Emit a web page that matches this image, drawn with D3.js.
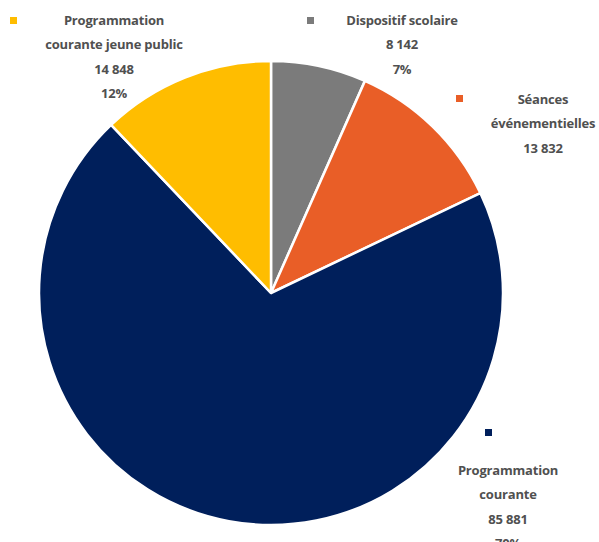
<!DOCTYPE html>
<html><head><meta charset="utf-8">
<script src="https://cdn.jsdelivr.net/npm/d3@7"></script>
<style>body{margin:0;background:#fff;} svg{display:block;}</style>
</head><body>
<svg id="c" width="599" height="542"></svg>
<script>
const categories = ["Dispositif scolaire", "Séances événementielles", "Programmation courante", "Programmation courante jeune public"];
const values = [8142, 13832, 85881, 14848];
const percents = ["7%", "11%", "70%", "12%"];
const colors = ["#7b7b7b", "#e95e27", "#001f5b", "#ffbd00"];
const labelLines = [
  ["Dispositif scolaire", "8 142", "7%"],
  ["Séances", "événementielles", "13 832"],
  ["Programmation", "courante", "85 881", "70%"],
  ["Programmation", "courante jeune public", "14 848", "12%"]
];
// label anchor layout (marker pos, text center x, first baseline)
const labelPos = [
  {mx: 307, my: 17, tx: 402, ty: 25},
  {mx: 456, my: 95, tx: 543, ty: 104},
  {mx: 485, my: 429, tx: 508, ty: 475},
  {mx: 10, my: 17, tx: 114, ty: 25}
];

const svg = d3.select("#c");
const cx = 271, cy = 293, r = 232;
const pie = d3.pie().sort(null).value(d => d)(values);
const arc = d3.arc().innerRadius(0).outerRadius(r);
const g = svg.append("g").attr("transform", `translate(${cx},${cy})`);
g.selectAll("path").data(pie).join("path")
  .attr("d", arc)
  .attr("fill", (d, i) => colors[i])
  .attr("stroke", "#fff").attr("stroke-width", 2.5).attr("stroke-linejoin", "round");

const lg = svg.append("g");
labelPos.forEach((p, i) => {
  lg.append("rect").attr("x", p.mx).attr("y", p.my).attr("width", 7).attr("height", 7).attr("fill", colors[i]);
  const t = lg.append("text").attr("text-anchor", "middle")
    .attr("font-family", "'Open Sans', Lato, sans-serif").attr("font-weight", 700)
    .attr("font-size", 13).attr("letter-spacing", -0.2).attr("fill", "#505050");
  labelLines[i].forEach((s, j) => {
    t.append("tspan").attr("x", p.tx).attr("y", p.ty + j * 24.3).text(s);
  });
});
</script>
</body></html>
